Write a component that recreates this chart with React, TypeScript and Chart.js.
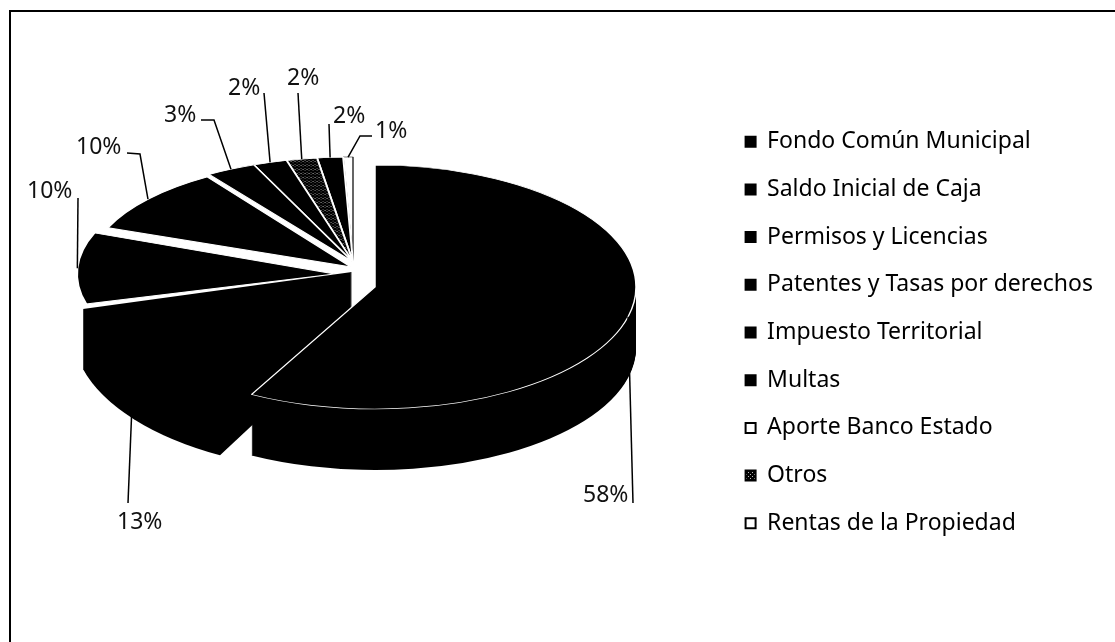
import React, { useEffect, useRef } from "react";
import { Chart, registerables } from "chart.js";

Chart.register(...registerables);

const categories = [
  "Fondo Común Municipal",
  "Saldo Inicial de Caja",
  "Permisos y Licencias",
  "Patentes y Tasas por derechos",
  "Impuesto Territorial",
  "Multas",
  "Aporte Banco Estado",
  "Otros",
  "Rentas de la Propiedad",
];
const sliceValues = [57.9, 12.9, 10.2, 9.8, 3.1, 2.1, 1.9, 1.6, 0.6];

// Drawn geometry of the tilted 3D pie: where each slice's apex sits and its ellipse radii
const sliceCx = [375, 352, 335, 351, 353, 353, 353, 353, 353];
const sliceCy = [287, 272, 274, 267, 262, 262, 262, 262, 262];
const sliceRx = [261, 279, 258, 261, 261, 261, 261, 261, 261];
const sliceRy = [122, 140, 113, 108, 105, 105, 105, 105, 105];
const sliceDepth = [61, 60, 0, 0, 0, 0, 0, 0, 0];
const drawOrder = [8, 7, 6, 5, 4, 3, 2, 1, 0];
const BASE_RADIUS = 261;

// Percentage label anchors (left, baseline) and the bends of their leader lines
const labelX = [583, 117, 27, 76, 164, 228, 287, 333, 375];
const labelY = [502, 529, 198, 154, 122, 95, 85, 123, 138];
const leaderBends: number[][][] = [
  [[633, 503]],
  [[128, 503]],
  [[78, 198]],
  [[140, 154], [127, 153]],
  [[214, 120], [201, 120]],
  [[264, 93]],
  [[298, 93]],
  [[329, 124]],
  [[360, 136], [372, 136]],
];

const FONT = '"Noto Sans", sans-serif';

function makeDither(): CanvasPattern | string {
  const c = document.createElement("canvas");
  c.width = 4;
  c.height = 4;
  const x = c.getContext("2d");
  if (!x) return "#333";
  x.fillStyle = "#000";
  x.fillRect(0, 0, 4, 4);
  x.fillStyle = "#bbb";
  x.fillRect(0, 0, 1, 1);
  x.fillRect(2, 2, 1, 1);
  return x.createPattern(c, "repeat") || "#333";
}

const pie3d = {
  id: "pie3d",
  beforeDatasetsDraw(chart: any) {
    const ctx = chart.ctx;
    const arcs = chart.getDatasetMeta(0).data;
    const total = sliceValues.reduce((a, b) => a + b, 0);

    const place = (arc: any, i: number, dy: number) => {
      ctx.translate(sliceCx[i], sliceCy[i] + dy);
      ctx.scale(sliceRx[i] / BASE_RADIUS, sliceRy[i] / BASE_RADIUS);
      ctx.translate(-arc.x, -arc.y);
    };

    drawOrder.forEach((i) => {
      const arc = arcs[i];
      if (sliceDepth[i] > 0) {
        const full = arc.options;
        arc.options = Object.create(full, { borderWidth: { value: 0 } });
        for (let d = sliceDepth[i]; d >= 1; d--) {
          ctx.save();
          place(arc, i, d);
          arc.draw(ctx);
          ctx.restore();
        }
        arc.options = full;
      }
      ctx.save();
      place(arc, i, 0);
      arc.draw(ctx);
      ctx.restore();
    });

    // leader lines and percentage labels
    ctx.save();
    ctx.strokeStyle = "#000";
    ctx.lineWidth = 1.5;
    ctx.fillStyle = "#111";
    ctx.font = `23px ${FONT}`;
    ctx.textAlign = "left";
    ctx.textBaseline = "alphabetic";
    arcs.forEach((arc: any, i: number) => {
      const mid = (arc.startAngle + arc.endAngle) / 2;
      const px = sliceCx[i] + Math.cos(mid) * sliceRx[i];
      const py = sliceCy[i] + Math.sin(mid) * sliceRy[i];
      ctx.beginPath();
      ctx.moveTo(px, py);
      leaderBends[i].forEach((p) => ctx.lineTo(p[0], p[1]));
      ctx.stroke();
      ctx.fillText(`${Math.round((sliceValues[i] / total) * 100)}%`, labelX[i], labelY[i]);
    });
    ctx.restore();
    return false;
  },
};

const frame = {
  id: "frame",
  beforeDraw(chart: any) {
    const ctx = chart.ctx;
    ctx.save();
    ctx.fillStyle = "#fff";
    ctx.fillRect(0, 0, chart.width, chart.height);
    ctx.strokeStyle = "#000";
    ctx.lineWidth = 2;
    ctx.beginPath();
    ctx.moveTo(10, chart.height);
    ctx.lineTo(10, 11);
    ctx.lineTo(chart.width, 11);
    ctx.stroke();
    ctx.restore();
  },
};

export default function App() {
  const ref = useRef<HTMLCanvasElement>(null);
  useEffect(() => {
    document.body.style.margin = "0";
    const dither = makeDither();
    const sliceColors = ["#000", "#000", "#000", "#000", "#000", "#000", dither, "#000", "#fff"];
    const sliceBorders = ["#fff", "#fff", "#fff", "#fff", "#fff", "#fff", "#fff", "#fff", "#000"];
    const sliceBorderWidths = [1.5, 0, 2, 2, 2, 2, 2, 2, 1.2];
    const legendFill = ["#000", "#000", "#000", "#000", "#000", "#000", "#fff", dither, "#fff"];
    const chart = new Chart(ref.current as HTMLCanvasElement, {
      type: "pie",
      data: {
        labels: categories,
        datasets: [
          {
            data: sliceValues,
            backgroundColor: sliceColors as any,
            borderColor: sliceBorders,
            borderWidth: sliceBorderWidths,
            radius: BASE_RADIUS,
          } as any,
        ],
      },
      options: {
        responsive: false,
        animation: false,
        layout: { padding: { top: 23, right: 12 } },
        plugins: {
          tooltip: { enabled: false },
          legend: {
            position: "right",
            labels: {
              color: "#111",
              boxWidth: 10,
              boxHeight: 10,
              padding: 24.7,
              font: { family: "Noto Sans", size: 23 },
              generateLabels: () =>
                categories.map((text, i) => ({
                  text,
                  fillStyle: legendFill[i] as any,
                  strokeStyle: "#000",
                  lineWidth: 2,
                  index: i,
                  hidden: false,
                })),
            },
          },
        },
      },
      plugins: [frame, pie3d],
    });
    return () => chart.destroy();
  }, []);
  return <canvas ref={ref} width={1115} height={642} style={{ display: "block" }} />;
}
